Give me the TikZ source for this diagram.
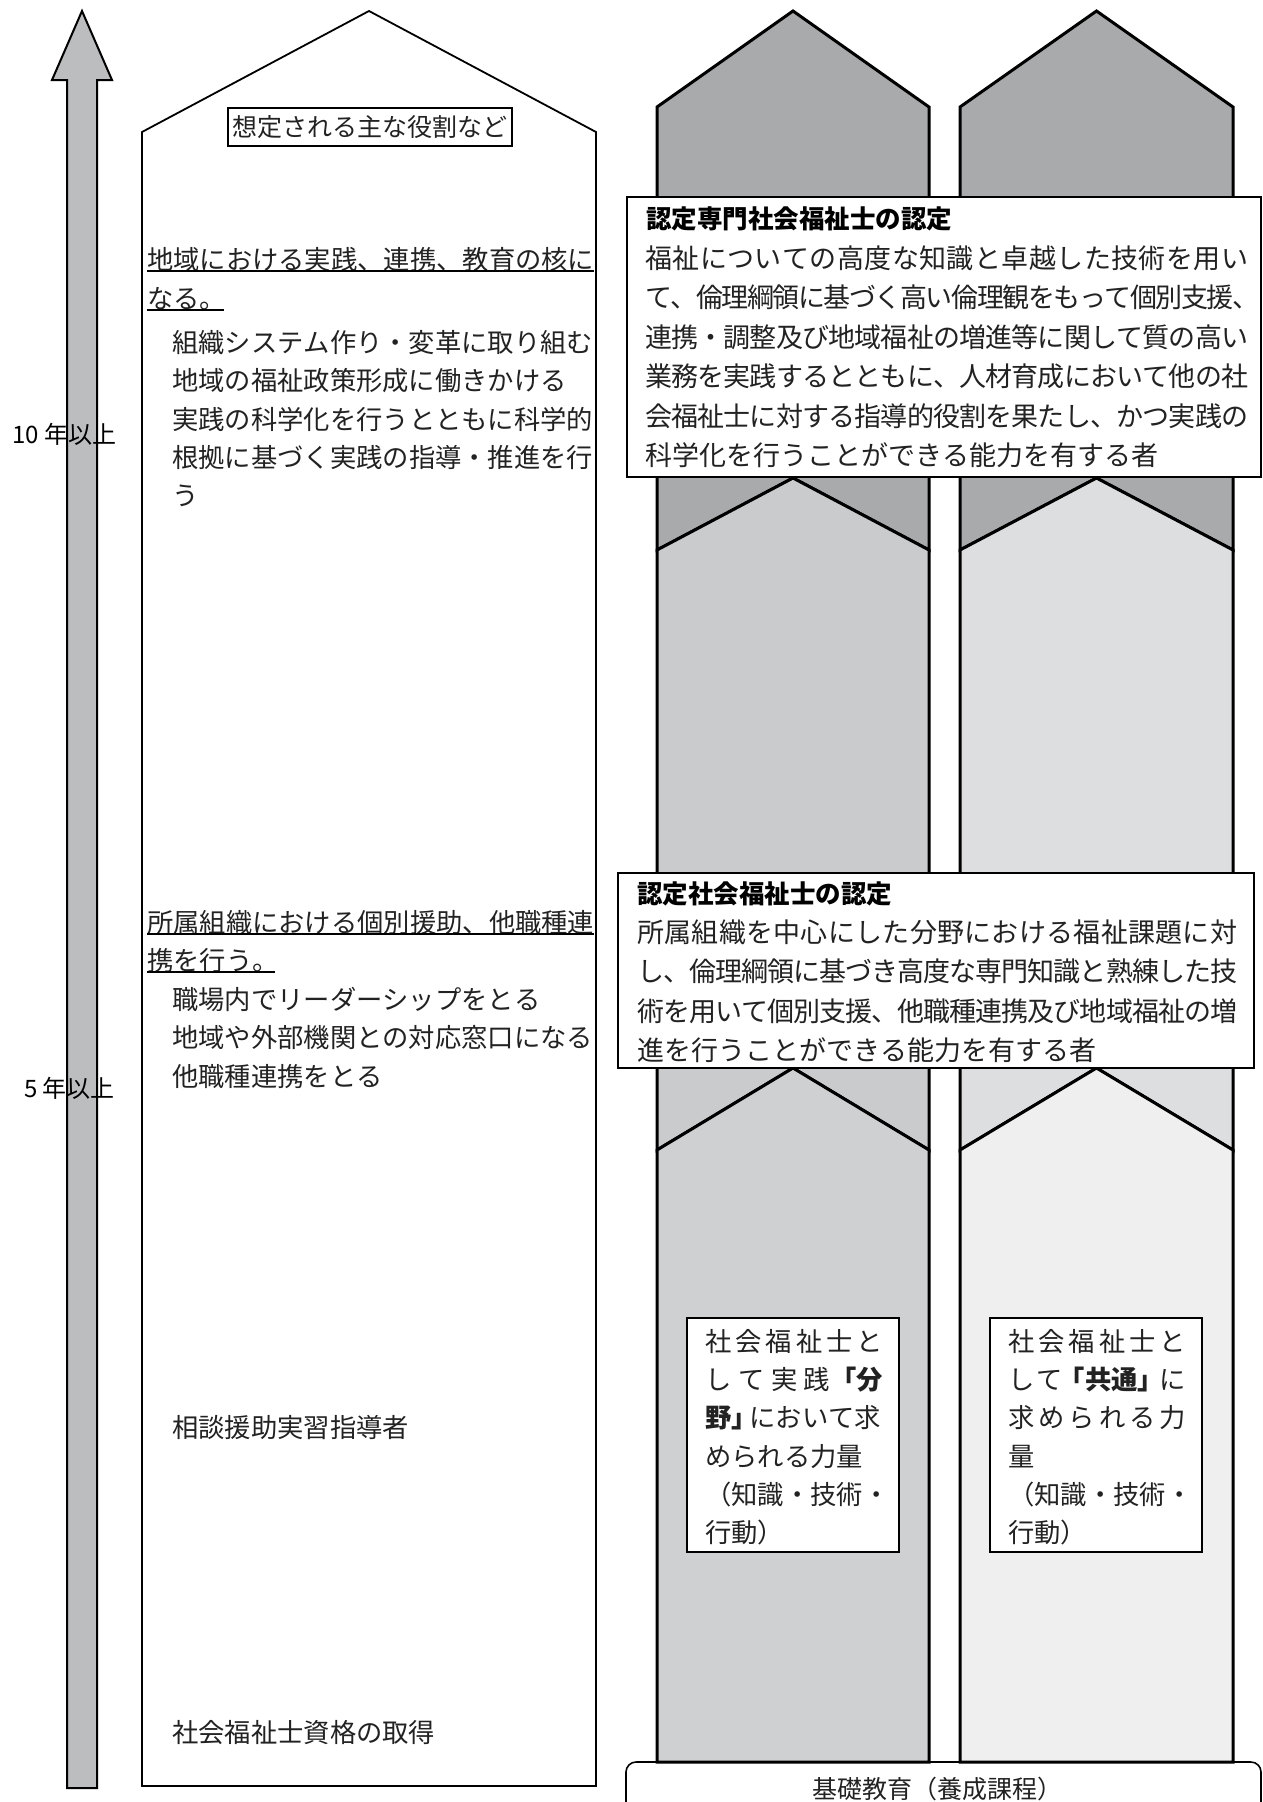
\documentclass[tikz,border=0pt]{standalone}
\usepackage{fontspec}
\setmainfont{Noto Sans CJK JP}
% inter-character glue for CJK text so that lines can be justified
\newcount\cjkcnt
\cjkcnt="3000
\loop
  \XeTeXcharclass\cjkcnt=5
  \advance\cjkcnt by 1
\ifnum\cjkcnt<"3100
\repeat
\cjkcnt="4E00
\loop
  \XeTeXcharclass\cjkcnt=5
  \advance\cjkcnt by 1
\ifnum\cjkcnt<"A000
\repeat
\XeTeXcharclass"FF08=5
\XeTeXcharclass"FF09=5
\XeTeXinterchartoks 5 5 = {\hskip 0pt plus 3pt minus 2pt\relax}
\XeTeXinterchartokenstate=1
\definecolor{arrowgray}{HTML}{BCBDBF}
\definecolor{topgray}{HTML}{A9AAAC}
\definecolor{midA}{HTML}{CACBCD}
\definecolor{botA}{HTML}{CFD0D2}
\definecolor{midB}{HTML}{DDDEE0}
\definecolor{botB}{HTML}{EFEFEF}
\definecolor{ink}{HTML}{222222}
\newcommand\drawcolumn[4]{%
  \pgfmathsetmacro\xcc{(#1+#2)/2}%
  \filldraw[colline, fill=topgray] (\xcc,11) -- (#2,107) -- (#2,550) -- (\xcc,478) -- (#1,550) -- (#1,107) -- cycle;
  \filldraw[colline, fill=#3] (#1,550) -- (\xcc,478) -- (#2,550) -- (#2,1150) -- (\xcc,1068) -- (#1,1150) -- cycle;
  \filldraw[colline, fill=#4] (#1,1150) -- (\xcc,1068) -- (#2,1150) -- (#2,1762) -- (#1,1762) -- cycle;
}
\begin{document}
\begin{tikzpicture}[x=1pt,y=-1pt,
  colline/.style={draw=black, line width=3pt, line join=miter},
  thinbox/.style={draw=black, line width=1.4pt, fill=white},
  uline/.style={draw=black, line width=1.8pt},
  tl/.style={anchor=west, inner sep=0pt, text=ink, font=\fontsize{26.3}{30}\selectfont, text height=23.1pt, text depth=3.2pt},
  tb/.style={anchor=west, inner sep=0pt, text=ink, font=\fontsize{27}{31}\selectfont, text height=23.8pt, text depth=3.2pt},
  thd/.style={anchor=west, inner sep=0pt, text=black, font=\fontsize{25.5}{30}\selectfont\bfseries, text height=22.4pt, text depth=3.1pt},
  yr/.style={anchor=west, inner sep=0pt, text=black, font=\fontsize{24}{28}\selectfont, text height=21pt, text depth=3pt}
]
\useasboundingbox (0,0) rectangle (1263,1802);
\fill[white] (0,0) rectangle (1263,1802);

% time arrow
\filldraw[fill=arrowgray, draw=black, line width=2pt, line join=miter]
  (82,11) -- (112,80) -- (97,80) -- (97,1788) -- (67,1788) -- (67,80) -- (52,80) -- cycle;
\node[yr] (y10) at (12,434) {10 年以上};
\node[yr] (y5) at (24,1088) {5\hspace{5pt}年以上};

% house shape
\draw[line width=1.8pt, line join=miter]
  (369,11) -- (596,132) -- (596,1786) -- (142,1786) -- (142,132) -- cycle;
\node[draw=black, line width=1.3pt, inner sep=0pt, minimum width=284pt, minimum height=38pt,
      text=ink, font=\fontsize{25}{29}\selectfont] (ttl) at (370,127) {想定される主な役割など};

\node[tl] (a1) at (147,260) {\makebox[447pt][s]{地域における実践、連携、教育の核に}};
\draw[uline] (a1.south west) ++(0,-2) -- ++(447,0);
\node[tl] (a2) at (147,299) {なる。};
\draw[uline] (a2.south west) ++(0,-2) -- ++(77,0);
\node[tl] (a3) at (172,343) {組織システム作り・変革に取り組む};
\node[tl] (a4) at (172,381) {地域の福祉政策形成に働きかける};
\node[tl] (a5) at (172,420) {\makebox[421pt][s]{実践の科学化を行うとともに科学的}};
\node[tl] (a6) at (172,458) {\makebox[421pt][s]{根拠に基づく実践の指導・推進を行}};
\node[tl] (a7) at (172,496) {う};

\node[tl] (b1) at (147,923) {\makebox[447pt][s]{所属組織における個別援助、他職種連}};
\draw[uline] (b1.south west) ++(0,-2) -- ++(447,0);
\node[tl] (b2) at (147,961) {携を行う。};
\draw[uline] (b2.south west) ++(0,-2) -- ++(128,0);
\node[tl] (b3) at (172,1000) {職場内でリーダーシップをとる};
\node[tl] (b4) at (172,1038) {地域や外部機関との対応窓口になる};
\node[tl] (b5) at (172,1077) {他職種連携をとる};

\node[tl] (c1) at (172,1428) {相談援助実習指導者};
\node[tl] (c2) at (172,1733) {社会福祉士資格の取得};

% columns
\filldraw[draw=black, line width=1.6pt, fill=white, rounded corners=10pt] (626,1762) rectangle (1261,1850);
\drawcolumn{657}{929}{midA}{botA}
\drawcolumn{960}{1233}{midB}{botB}
\node[tl, anchor=center, font=\fontsize{25}{29}\selectfont] (base) at (937,1789) {基礎教育（養成課程）};

% certification box 1
\filldraw[thinbox] (627,197) rectangle (1261,477);
\node[thd] (h1) at (646,219) {認定専門社会福祉士の認定};
\node[tb] (p1) at (645,258) {\makebox[603pt][s]{福祉についての高度な知識と卓越した技術を用い}};
\node[tb] (p2) at (645,297) {\makebox[614pt][s]{て、倫理綱領に基づく高い倫理観をもって個別支援、}};
\node[tb] (p3) at (645,337) {\makebox[603pt][s]{連携・調整及び地域福祉の増進等に関して質の高い}};
\node[tb] (p4) at (645,376) {\makebox[603pt][s]{業務を実践するとともに、人材育成において他の社}};
\node[tb] (p5) at (645,416) {\makebox[603pt][s]{会福祉士に対する指導的役割を果たし、かつ実践の}};
\node[tb] (p6) at (645,455) {科学化を行うことができる能力を有する者};

% certification box 2
\filldraw[thinbox] (618,873) rectangle (1254,1068);
\node[thd] (h2) at (637,894) {認定社会福祉士の認定};
\node[tb] (q1) at (637,932) {\makebox[600pt][s]{所属組織を中心にした分野における福祉課題に対}};
\node[tb] (q2) at (637,971) {\makebox[600pt][s]{し、倫理綱領に基づき高度な専門知識と熟練した技}};
\node[tb] (q3) at (637,1011) {\makebox[600pt][s]{術を用いて個別支援、他職種連携及び地域福祉の増}};
\node[tb] (q4) at (637,1050) {進を行うことができる能力を有する者};

% inner boxes
\filldraw[thinbox] (687,1318) rectangle (899,1552);
\node[tl] (f1) at (705,1342) {\makebox[178pt][s]{社会福祉士と}};
\node[tl] (f2) at (705,1380) {\makebox[178pt]{し\hfill て\hfill 実\hfill 践\hfill{\bfseries\makebox[20pt][r]{「}分}}};
\node[tl] (f3) at (705,1418) {{\bfseries 野\makebox[18pt][l]{」}}において求};
\node[tl] (f4) at (705,1457) {められる力量};
\node[tl] (f5) at (705,1495) {（知識・技術・};
\node[tl] (f6) at (705,1533) {行動）};

\filldraw[thinbox] (990,1318) rectangle (1202,1552);
\node[tl] (g1) at (1008,1342) {\makebox[178pt][s]{社会福祉士と}};
\node[tl] (g2) at (1008,1380) {\makebox[178pt]{し\hfill て\hfill{\bfseries\makebox[20pt][r]{「}共通\makebox[20pt][l]{」}}\hfill に}};
\node[tl] (g3) at (1008,1418) {\makebox[178pt][s]{求められる力}};
\node[tl] (g4) at (1008,1457) {量};
\node[tl] (g5) at (1008,1495) {（知識・技術・};
\node[tl] (g6) at (1008,1533) {行動）};
\end{tikzpicture}
\end{document}
